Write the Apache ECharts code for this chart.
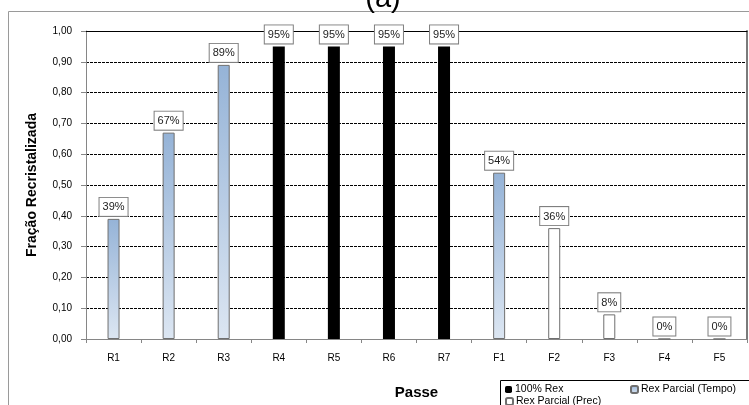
<!DOCTYPE html>
<html>
<head>
<meta charset="utf-8">
<script src="https://cdn.jsdelivr.net/npm/echarts@6/dist/echarts.min.js"></script>
<style>
  html, body { margin: 0; padding: 0; background: #fff; }
  #chart { width: 749px; height: 405px; }
</style>
</head>
<body>
<div id="chart"></div>
<script>
// Passes (roughing R1–R7, finishing F1–F5)
const categories = ['R1', 'R2', 'R3', 'R4', 'R5', 'R6', 'R7', 'F1', 'F2', 'F3', 'F4', 'F5'];
// Recrystallized fraction per pass, split by mechanism (null = not applicable)
const rexTotal   = [null, null, null, 0.95, 0.95, 0.95, 0.95, null, null, null, null, null];
const rexTempo   = [0.39, 0.67, 0.89, null, null, null, null, 0.54, null, null, null, null];
const rexPrec    = [null, null, null, null, null, null, null, null, 0.36, 0.08, 0.00, 0.00];
const seriesNames = ['100% Rex', 'Rex Parcial (Tempo)', 'Rex Parcial (Prec)'];
const yTicks = { min: 0, max: 1, interval: 0.1 };

const baseFont = 'Liberation Sans, Arial, sans-serif';
const chart = echarts.init(document.getElementById('chart'));

const valueLabel = {
  show: true,
  position: 'top',
  distance: 3,
  formatter: p => Math.round(p.value * 100) + '%',
  fontFamily: baseFont,
  fontSize: 11,
  color: '#222',
  backgroundColor: '#fff',
  borderColor: '#7f7f7f',
  borderWidth: 1,
  padding: [4, 3, 3, 3]
};

const blueFill = new echarts.graphic.LinearGradient(0, 0, 0, 1, [
  { offset: 0, color: '#95b3d7' },
  { offset: 1, color: '#dce6f2' }
]);

const legendCommon = {
  itemWidth: 7,
  itemHeight: 7,
  itemGap: 0,
  textStyle: { fontFamily: baseFont, fontSize: 10.5, color: '#000', padding: [0, 0, 0, -2] },
  selectedMode: false
};

chart.setOption({
  animation: false,
  backgroundColor: '#fff',
  grid: { left: 86, right: 2, top: 31, bottom: 58 },
  graphic: [
    { type: 'rect', silent: true, z: -1,
      shape: { x: 8.5, y: 11.5, width: 760, height: 420 },
      style: { fill: 'none', stroke: '#9a9a9a', lineWidth: 1 } },
    { type: 'rect', silent: true,
      shape: { x: 500.5, y: 380.5, width: 260, height: 40 },
      style: { fill: '#fff', stroke: '#000', lineWidth: 1 } },
    { type: 'text', silent: true, x: 383, y: 13,
      style: { text: '(a)', font: '29px ' + baseFont, fill: '#000', align: 'center', verticalAlign: 'bottom' } }
  ],
  legend: [
    Object.assign({ data: [seriesNames[0]], left: 500, top: 379 }, legendCommon),
    Object.assign({ data: [seriesNames[1]], left: 625, top: 379 }, legendCommon),
    Object.assign({ data: [seriesNames[2]], left: 500, top: 391 }, legendCommon)
  ],
  xAxis: [
    {
      type: 'category',
      data: categories,
      boundaryGap: true,
      name: 'Passe',
      nameLocation: 'middle',
      nameGap: 46,
      nameTextStyle: { fontFamily: baseFont, fontSize: 15, fontWeight: 'bold', color: '#000' },
      axisLine: { lineStyle: { color: '#868686', width: 1 } },
      axisTick: { show: true, alignWithLabel: false, length: 4, lineStyle: { color: '#868686' } },
      axisLabel: { fontFamily: baseFont, fontSize: 10, color: '#000', margin: 14 },
      splitLine: { show: false }
    },
    {
      type: 'category',
      data: categories,
      position: 'top',
      axisLine: { onZero: false, lineStyle: { color: '#000', width: 1 } },
      axisTick: { show: false },
      axisLabel: { show: false }
    }
  ],
  yAxis: [
    {
      type: 'value',
      min: yTicks.min,
      max: yTicks.max,
      interval: yTicks.interval,
      name: 'Fração Recristalizada',
      nameLocation: 'middle',
      nameGap: 47,
      nameTextStyle: { fontFamily: baseFont, fontSize: 14, fontWeight: 'bold', color: '#000' },
      axisLine: { show: true, lineStyle: { color: '#868686', width: 1 } },
      axisTick: { show: true, length: 5, lineStyle: { color: '#868686' } },
      axisLabel: {
        fontFamily: baseFont, fontSize: 10, color: '#000', margin: 14,
        formatter: v => v.toFixed(2).replace('.', ',')
      },
      splitLine: { show: true, lineStyle: { color: '#000', type: [3, 1], width: 1 } }
    },
    {
      type: 'value',
      min: yTicks.min,
      max: yTicks.max,
      interval: yTicks.interval,
      position: 'right',
      axisLine: { show: true, onZero: false, lineStyle: { color: '#7a7a7a', width: 2 } },
      axisTick: { show: false },
      axisLabel: { show: false },
      splitLine: { show: false }
    }
  ],
  series: [
    {
      name: seriesNames[0], type: 'bar', stack: 'pass', barWidth: 12,
      data: rexTotal,
      itemStyle: { color: '#000', borderColor: '#000', borderWidth: 0 },
      label: valueLabel
    },
    {
      name: seriesNames[1], type: 'bar', stack: 'pass', barWidth: 12,
      data: rexTempo,
      itemStyle: { color: blueFill, borderColor: '#6f6f6f', borderWidth: 1 },
      label: valueLabel
    },
    {
      name: seriesNames[2], type: 'bar', stack: 'pass', barWidth: 12,
      data: rexPrec,
      itemStyle: { color: '#fff', borderColor: '#6f6f6f', borderWidth: 1 },
      label: valueLabel
    }
  ]
});
</script>
</body>
</html>
